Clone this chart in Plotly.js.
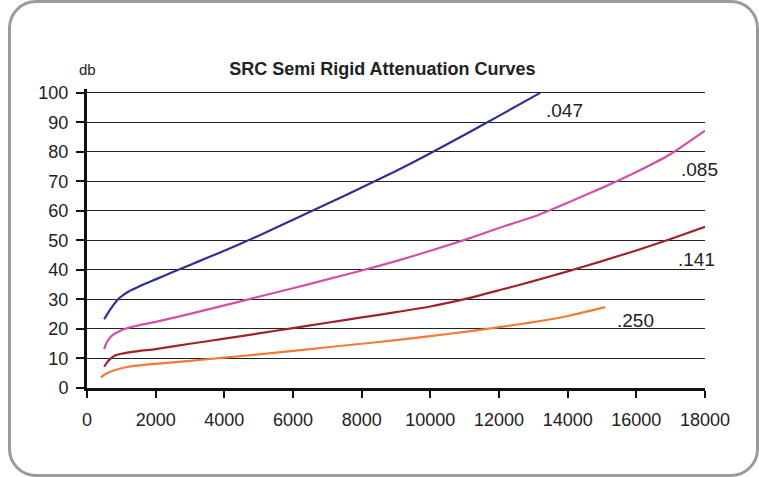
<!DOCTYPE html>
<html><head><meta charset="utf-8">
<script src="https://cdn.plot.ly/plotly-3.0.1.min.js"></script>
<style>
html,body{margin:0;padding:0;background:#fff;}
#frame{position:absolute;left:8px;top:0px;width:751px;height:477px;box-sizing:border-box;border:3px solid #9b9b9b;border-radius:28px;}
#chart{position:absolute;left:0;top:0;width:759px;height:477px;}
</style></head>
<body>
<div id="frame"></div>
<div id="chart"></div>
<script>
const x047 = [500, 600, 700, 800, 900, 1000, 1200, 1500, 2000, 2500, 3000, 3500, 4000, 5000, 6000, 7000, 8000, 9000, 10000, 11000, 12000, 13200];
const y047 = [23.3, 25.2, 27, 28.6, 30.0, 31.0, 32.6, 34.3, 36.8, 39.3, 41.7, 44.1, 46.5, 51.6, 57, 62.4, 67.9, 73.5, 79.5, 85.8, 92.2, 100];

const x085 = [500, 550, 620, 750, 900, 1100, 1500, 2000, 3000, 4000, 5000, 6000, 7000, 8000, 9000, 10000, 11000, 12000, 13000, 14000, 15000, 16000, 17000, 18000];
const y085 = [13.2, 14.8, 16.3, 18, 19.0, 20.0, 21.2, 22.4, 25.1, 28, 30.9, 33.8, 36.8, 39.8, 43, 46.5, 50.2, 54.2, 58, 62.8, 67.8, 73.2, 79.3, 87.2];

const x141 = [500, 580, 670, 800, 1000, 1500, 2000, 3000, 4000, 5000, 6000, 7000, 8000, 9000, 10000, 11000, 12000, 13000, 14000, 15000, 16000, 17000, 18000];
const y141 = [7.2, 8.6, 9.8, 10.9, 11.6, 12.5, 13.2, 15, 16.7, 18.5, 20.3, 22.1, 23.9, 25.7, 27.6, 30.1, 33.1, 36.2, 39.5, 43, 46.6, 50.5, 54.6];

const x250 = [400, 550, 800, 1200, 2000, 3000, 4000, 5000, 6000, 7000, 8000, 9000, 10000, 11000, 12000, 13000, 14000, 15100];
const y250 = [3.6, 4.8, 6.0, 7.2, 8.2, 9.2, 10.3, 11.4, 12.6, 13.8, 15, 16.2, 17.6, 19, 20.6, 22.3, 24.4, 27.4];

const seriesNames = ['.047', '.085', '.141', '.250'];
const seriesColors = ['#2E3192', '#D150AE', '#A2212B', '#F47A36'];
const labelX = [13300, 17250, 17160, 15380];
const labelY = [94, 73.9, 43.7, 23];

const xTicks = [0, 2000, 4000, 6000, 8000, 10000, 12000, 14000, 16000, 18000];
const yTicks = [0, 10, 20, 30, 40, 50, 60, 70, 80, 90, 100];

const xs = [x047, x085, x141, x250];
const ys = [y047, y085, y141, y250];

const traces = xs.map((xv, i) => ({
  x: xv, y: ys[i], type: 'scatter', mode: 'lines', name: seriesNames[i],
  line: {color: seriesColors[i], width: 2.2, shape: 'spline', smoothing: 0.5},
  hoverinfo: 'skip'
}));

const font = {family: 'Liberation Sans, Arial, sans-serif', color: '#222'};

const annotations = seriesNames.map((n, i) => ({
  x: labelX[i], y: labelY[i], xref: 'x', yref: 'y', text: n, showarrow: false,
  xanchor: 'left', yanchor: 'middle', font: {family: font.family, size: 19, color: '#222'}
}));
annotations.push({
  x: 0, y: 1.064, xref: 'paper', yref: 'paper', text: 'db', showarrow: false,
  xanchor: 'center', yanchor: 'middle', font: {family: font.family, size: 15, color: '#222'}
});

const layout = {
  width: 759, height: 477,
  paper_bgcolor: 'rgba(0,0,0,0)', plot_bgcolor: 'rgba(0,0,0,0)',
  margin: {l: 87, r: 54, t: 89, b: 89},
  showlegend: false,
  title: {text: '<b>SRC Semi Rigid Attenuation Curves</b>', x: 0.478, xref: 'paper', xanchor: 'center',
          y: 1 - 69/477, yanchor: 'middle', font: {family: font.family, size: 18, color: '#222'}},
  xaxis: {range: [0, 18000], tickvals: xTicks, ticktext: xTicks.map(String), showgrid: false,
          zeroline: false, showline: true, linecolor: '#111', linewidth: 3,
          ticks: 'outside', ticklen: 7, tickwidth: 2, tickcolor: '#111',
          tickfont: {family: font.family, size: 18, color: '#222'}, ticklabelstandoff: 6},
  yaxis: {range: [0, 101.3], tickvals: yTicks, ticktext: yTicks.map(String), showgrid: true,
          gridcolor: '#222', gridwidth: 1, zeroline: false, showline: true, linecolor: '#111', linewidth: 3,
          ticks: 'outside', ticklen: 8, tickwidth: 2, tickcolor: '#111',
          tickfont: {family: font.family, size: 18, color: '#222'}, ticklabelstandoff: 4},
  annotations: annotations
};

Plotly.newPlot('chart', traces, layout, {displayModeBar: false, staticPlot: true});
</script>
</body></html>
